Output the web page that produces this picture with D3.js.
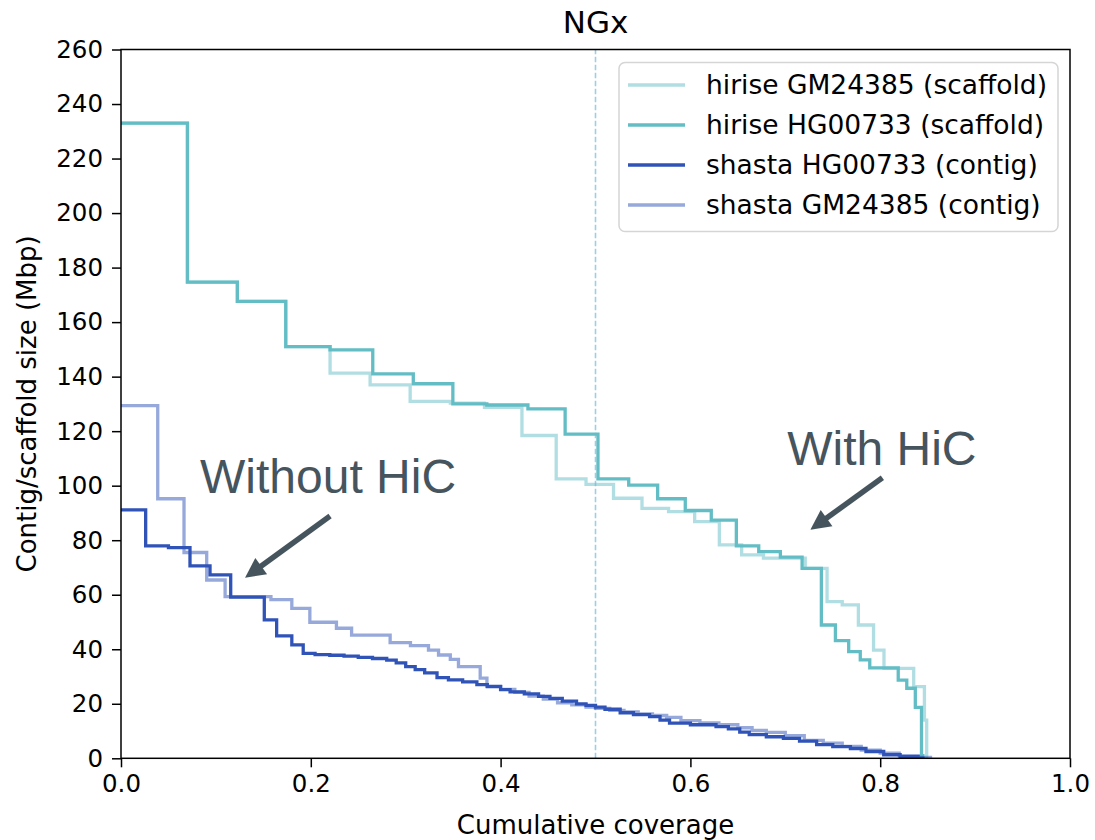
<!DOCTYPE html>
<html>
<head>
<meta charset="utf-8">
<script src="https://cdn.jsdelivr.net/npm/d3@7"></script>
<style>
  html, body { margin: 0; padding: 0; background: #fff; }
  svg { display: block; }
</style>
</head>
<body>
<svg id="chart" width="1095" height="840"></svg>
<script>
// ---------------- data ----------------
const seriesNames = [
  "hirise GM24385 (scaffold)",
  "hirise HG00733 (scaffold)",
  "shasta HG00733 (contig)",
  "shasta GM24385 (contig)"
];

const hiriseGM_x = [0, 0.070, 0.1226, 0.1736, 0.2203, 0.2625, 0.3047, 0.347, 0.383, 0.4225, 0.4586, 0.49, 0.519, 0.549, 0.577, 0.6045, 0.6305, 0.654, 0.677, 0.721, 0.744, 0.76, 0.777, 0.793, 0.804, 0.8353, 0.8466, 0.849];
const hiriseGM_y = [233, 174.7, 167.6, 151, 141.3, 137, 130.9, 130.3, 128.7, 118.4, 102.5, 100.5, 95.4, 91.7, 90.5, 86.8, 78.3, 74.6, 73.4, 69.7, 57.5, 56.3, 48.9, 39.7, 33, 26.3, 14, 0];

const hiriseHG_x = [0, 0.070, 0.1226, 0.1736, 0.2203, 0.2653, 0.308, 0.3497, 0.3855, 0.4288, 0.468, 0.5026, 0.535, 0.5655, 0.5946, 0.622, 0.6484, 0.672, 0.6948, 0.7177, 0.738, 0.7528, 0.7668, 0.779, 0.789, 0.819, 0.828, 0.837, 0.8435, 0.845];
const hiriseHG_y = [233, 174.7, 167.6, 151, 149.8, 141, 137.4, 130, 129.6, 128.2, 118.9, 102.5, 100.2, 95.2, 90.9, 87.4, 77.9, 75.8, 73.8, 69.7, 48.9, 43.2, 39.1, 36.1, 33.2, 28.7, 25.7, 18.7, 1, 0];

const shastaHG_x = [0, 0.026, 0.05, 0.0727, 0.0938, 0.1156, 0.151, 0.164, 0.18, 0.192, 0.2045, 0.22, 0.235, 0.25, 0.265, 0.28, 0.29, 0.30, 0.31, 0.32, 0.333, 0.345, 0.36, 0.375, 0.386, 0.40, 0.41, 0.425, 0.44, 0.452, 0.465, 0.48, 0.49, 0.50, 0.51, 0.526, 0.54, 0.557, 0.568, 0.578, 0.60, 0.627, 0.64, 0.652, 0.662, 0.68, 0.698, 0.715, 0.733, 0.75, 0.7686, 0.785, 0.8037, 0.821, 0.84, 0.845];
const shastaHG_y = [91.1, 77.9, 77.3, 70.6, 67.3, 59.1, 50.8, 44.9, 41.6, 38.5, 38.0, 37.8, 37.5, 37.0, 36.6, 36.0, 35.0, 33.6, 32.5, 31.3, 29.6, 28.8, 28.0, 27.0, 26.3, 25.2, 24.4, 23.6, 22.7, 22.0, 21.0, 20.0, 19.4, 18.8, 18.0, 16.7, 16.0, 15.3, 14.0, 12.9, 12.3, 11.6, 10.8, 9.6, 8.7, 7.9, 7.3, 6.3, 5.0, 4.3, 3.6, 2.5, 1.3, 0.6, 0.1, 0];

const shastaGM_x = [0, 0.0387, 0.0664, 0.0903, 0.1097, 0.158, 0.18, 0.199, 0.227, 0.243, 0.2836, 0.305, 0.324, 0.3346, 0.347, 0.3556, 0.3785, 0.3856, 0.40, 0.415, 0.43, 0.445, 0.46, 0.475, 0.49, 0.50, 0.515, 0.53, 0.545, 0.56, 0.575, 0.59, 0.61, 0.63, 0.65, 0.665, 0.68, 0.70, 0.72, 0.74, 0.76, 0.78, 0.80, 0.82, 0.84, 0.853];
const shastaGM_y = [129.4, 95.2, 75.5, 65.4, 59.3, 58.2, 55.0, 49.9, 47.7, 45.2, 42.4, 41.3, 39.7, 37.9, 36.3, 33.6, 29.4, 26.5, 25.3, 24.2, 22.8, 21.7, 20.3, 19.6, 18.8, 18.3, 17.6, 17.0, 16.3, 15.7, 15.0, 13.8, 13.0, 12.3, 11.2, 10.2, 9.5, 8.3, 6.6, 5.6, 4.4, 3.0, 1.9, 1.0, 0.3, 0];

const xTicks = [0.0, 0.2, 0.4, 0.6, 0.8, 1.0];
const yTicks = [0, 20, 40, 60, 80, 100, 120, 140, 160, 180, 200, 220, 240, 260];

const titleText = "NGx";
const xLabel = "Cumulative coverage";
const yLabel = "Contig/scaffold size (Mbp)";
const ngMark = 0.5;

// annotations: [label, textX, textY, arrowFromX, arrowFromY, arrowToX, arrowToY] in data units
const annotations = [
  ["Without HiC", 0.0833, 97.4, 0.2203, 88.9, 0.1307, 66.2],
  ["With HiC", 0.702, 107.6, 0.8023, 102.9, 0.7264, 83.8]
];

// ---------------- layout ----------------
const M = { left: 121, right: 1070, top: 49.5, bottom: 758.3 };
const FONT = "DejaVu Sans, sans-serif";

const series = [
  { name: seriesNames[0], xs: hiriseGM_x, ys: hiriseGM_y, color: "#63bdc5", opacity: 0.5 },
  { name: seriesNames[1], xs: hiriseHG_x, ys: hiriseHG_y, color: "#63bdc5", opacity: 1 },
  { name: seriesNames[2], xs: shastaHG_x, ys: shastaHG_y, color: "#3053b8", opacity: 1 },
  { name: seriesNames[3], xs: shastaGM_x, ys: shastaGM_y, color: "#3053b8", opacity: 0.5 }
];

const svg = d3.select("#chart");
const x = d3.scaleLinear().domain([0, 1]).range([M.left, M.right]);
const y = d3.scaleLinear().domain([0, 260]).range([M.bottom, M.top]);

svg.append("defs").append("clipPath").attr("id", "clip")
  .append("rect").attr("x", M.left).attr("y", M.top)
  .attr("width", M.right - M.left).attr("height", M.bottom - M.top);

// dashed NG50 line
svg.append("line")
  .attr("x1", x(ngMark)).attr("x2", x(ngMark))
  .attr("y1", y(0)).attr("y2", y(260))
  .attr("stroke", "#9fcde8").attr("stroke-width", 1.6)
  .attr("stroke-dasharray", "5.5,2.5");

// lines
const line = d3.line().curve(d3.curveStepAfter).x(d => x(d[0])).y(d => y(d[1]));
const gLines = svg.append("g").attr("clip-path", "url(#clip)");
series.forEach(s => {
  const pts = s.xs.map((v, i) => [v, s.ys[i]]);
  gLines.append("path")
    .datum(pts)
    .attr("d", line)
    .attr("fill", "none")
    .attr("stroke", s.color)
    .attr("stroke-opacity", s.opacity)
    .attr("stroke-width", 3.3)
    .attr("stroke-linejoin", "miter")
    .attr("stroke-linecap", "square");
});

// axes
const xAxis = d3.axisBottom(x).tickValues(xTicks).tickFormat(d3.format(".1f")).tickSizeOuter(0).tickSize(9).tickPadding(7);
const yAxis = d3.axisLeft(y).tickValues(yTicks).tickFormat(d3.format("d")).tickSizeOuter(0).tickSize(9).tickPadding(9);

const gx = svg.append("g").attr("transform", `translate(0,${M.bottom})`).call(xAxis);
const gy = svg.append("g").attr("transform", `translate(${M.left},0)`).call(yAxis);
[gx, gy].forEach(g => {
  g.select(".domain").remove();
  g.selectAll(".tick line").attr("stroke", "#000").attr("stroke-width", 1.5);
  g.selectAll(".tick text").attr("fill", "#000").style("font-family", FONT).style("font-size", "24.5px");
});

// frame
svg.append("rect")
  .attr("x", M.left).attr("y", M.top)
  .attr("width", M.right - M.left).attr("height", M.bottom - M.top)
  .attr("fill", "none").attr("stroke", "#000").attr("stroke-width", 1.5);

// title & labels
svg.append("text").attr("x", (M.left + M.right) / 2).attr("y", 33)
  .attr("text-anchor", "middle").style("font-family", FONT).style("font-size", "31px")
  .text(titleText);
svg.append("text").attr("x", (M.left + M.right) / 2).attr("y", 834)
  .attr("text-anchor", "middle").style("font-family", FONT).style("font-size", "26px")
  .text(xLabel);
svg.append("text")
  .attr("transform", `translate(36,${(M.top + M.bottom) / 2}) rotate(-90)`)
  .attr("text-anchor", "middle").style("font-family", FONT).style("font-size", "26px")
  .text(yLabel);

// legend
const lg = svg.append("g");
const lgX = 619, lgY = 62.5, lgW = 439, lgH = 169;
lg.append("rect").attr("x", lgX).attr("y", lgY).attr("width", lgW).attr("height", lgH)
  .attr("rx", 6).attr("fill", "#fff").attr("fill-opacity", 0.8)
  .attr("stroke", "#d5d5d5").attr("stroke-width", 1.5);
series.forEach((s, i) => {
  const cy = 85 + i * 40;
  lg.append("line").attr("x1", 628).attr("x2", 685).attr("y1", cy).attr("y2", cy)
    .attr("stroke", s.color).attr("stroke-opacity", s.opacity).attr("stroke-width", 3.3);
  lg.append("text").attr("x", 706).attr("y", cy + 9)
    .style("font-family", FONT).style("font-size", "26.5px").attr("fill", "#000")
    .text(s.name);
});

// annotations
const annColor = "#46545e";
annotations.forEach(a => {
  const [label, tx, ty, fx, fy, tx2, ty2] = a;
  svg.append("text").attr("x", x(tx)).attr("y", y(ty))
    .style("font-family", "Liberation Sans, Arial, sans-serif").style("font-size", "48px")
    .attr("fill", annColor).text(label);
  const x1 = x(fx), y1 = y(fy), x2 = x(tx2), y2 = y(ty2);
  const dx = x2 - x1, dy = y2 - y1, len = Math.hypot(dx, dy);
  const ux = dx / len, uy = dy / len;
  const headL = 20, headW = 10;
  const bx = x2 - ux * headL, by = y2 - uy * headL;
  svg.append("line").attr("x1", x1).attr("y1", y1).attr("x2", bx + ux * 2).attr("y2", by + uy * 2)
    .attr("stroke", annColor).attr("stroke-width", 5.5);
  svg.append("path")
    .attr("d", `M${x2},${y2} L${bx - uy * headW},${by + ux * headW} L${bx + uy * headW},${by - ux * headW} Z`)
    .attr("fill", annColor);
});
</script>
</body>
</html>
